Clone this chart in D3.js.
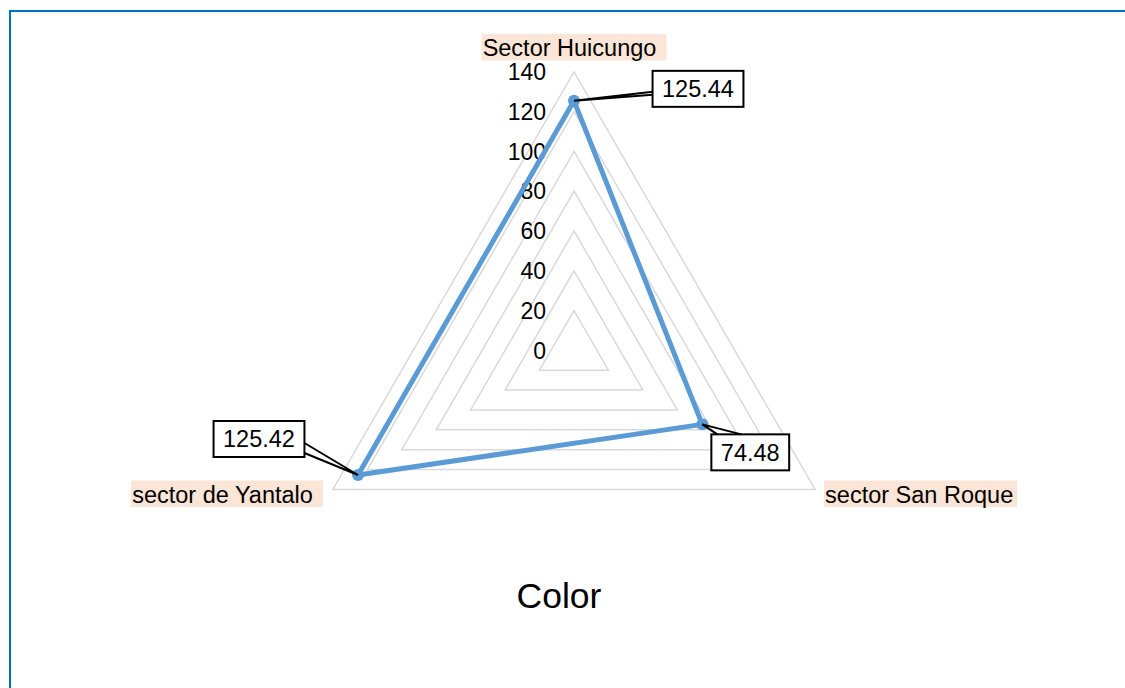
<!DOCTYPE html>
<html>
<head>
<meta charset="utf-8">
<script src="https://cdn.jsdelivr.net/npm/d3@7"></script>
<style>
  html, body { margin: 0; padding: 0; background: #fff; }
  svg { display: block; }
  text { font-family: "Liberation Sans", Arial, sans-serif; fill: #000; }
</style>
</head>
<body>
<svg id="chart" width="1125" height="688"></svg>
<script>
const categories = ["Sector Huicungo", "sector San Roque", "sector de Yantalo"];
const values = [125.44, 74.48, 125.42];
const tickValues = [0, 20, 40, 60, 80, 100, 120, 140];
const valueLabels = ["125.44", "74.48", "125.42"];
const chartTitle = "Color";

const W = 1125, H = 688;
const cx = 574, cy = 350.3, R = 278.4;
const svg = d3.select("#chart");

// frame
svg.append("rect").attr("x", 10).attr("y", 11).attr("width", 1300).attr("height", 900)
  .attr("fill", "none").attr("stroke", "#0070C0").attr("stroke-width", 2);

const r = d3.scaleLinear().domain([0, 140]).range([0, R]);
const angle = d3.scalePoint().domain(categories).range([0, 2 * Math.PI * (categories.length - 1) / categories.length]);
const pt = (cat, v) => {
  const a = angle(cat) - Math.PI / 2;
  return [cx + r(v) * Math.cos(a), cy + r(v) * Math.sin(a)];
};

const g = svg.append("g");

// grid rings
const ring = d3.lineRadial().curve(d3.curveLinearClosed);
tickValues.filter(v => v > 0).forEach(v => {
  g.append("path")
    .attr("transform", `translate(${cx},${cy})`)
    .attr("d", ring(categories.map(c => [angle(c), r(v)])))
    .attr("fill", "none").attr("stroke", "#D9D9D9").attr("stroke-width", 1.5);
});

// tick labels
g.selectAll(".tick").data(tickValues).join("text")
  .attr("x", cx - 28).attr("y", v => cy - r(v))
  .attr("dy", 8.2)
  .attr("text-anchor", "end").attr("font-size", 23)
  .text(v => v);

// series line
const series = d3.lineRadial().curve(d3.curveLinearClosed);
g.append("path")
  .attr("transform", `translate(${cx},${cy})`)
  .attr("d", series(categories.map((c, i) => [angle(c), r(values[i])])))
  .attr("fill", "none").attr("stroke", "#5B9BD5").attr("stroke-width", 5)
  .attr("stroke-linejoin", "round");

categories.forEach((c, i) => {
  const [x, y] = pt(c, values[i]);
  g.append("circle").attr("cx", x).attr("cy", y).attr("r", 6).attr("fill", "#5B9BD5");
});

// category labels with peach background
const fs = 23.5;
const padRight = [11, 5, 11];
const labelPlace = [
  (vx, vy, w) => [vx - w / 2, vy - 12 - 26],
  (vx, vy, w) => [vx + 9, vy - 9],
  (vx, vy, w) => [vx - 10 - w, vy - 9]
];
categories.forEach((c, i) => {
  const [vx, vy] = pt(c, 140);
  const t = g.append("text").attr("font-size", fs).text(c);
  const tw = t.node().getComputedTextLength();
  const w = tw + padRight[i];
  const [bx, by] = labelPlace[i](vx, vy, w);
  g.insert("rect", "text").attr("x", bx).attr("y", by).attr("width", w).attr("height", 26.5)
    .attr("fill", "#FBE5D6");
  t.attr("x", bx + 1).attr("y", by + 22);
});

// data labels with leader lines
const boxOff = [[124, -12], [48, 28], [-99, -36]];
categories.forEach((c, i) => {
  const [px, py] = pt(c, values[i]);
  const bxC = px + boxOff[i][0], byC = py + boxOff[i][1];
  const t = g.append("text").attr("font-size", fs).attr("text-anchor", "middle")
    .attr("x", bxC).attr("y", byC + 8.4).text(valueLabels[i]);
  const tw = t.node().getComputedTextLength();
  const bw = tw + 19, bh = 36;
  const x0 = bxC - bw / 2, y0 = byC - bh / 2;
  g.insert("rect", "text").attr("x", x0).attr("y", y0).attr("width", bw).attr("height", bh)
    .attr("fill", "#fff").attr("stroke", "#000").attr("stroke-width", 2);
  let d;
  if (i === 0) d = `M${x0},${byC + 3}L${px},${py}L${x0},${byC + 6}`;
  else if (i === 1) d = `M${x0 + 30},${y0}L${px},${py}L${x0 + 6},${y0}`;
  else d = `M${x0 + bw},${y0 + 22}L${px},${py}L${x0 + bw},${y0 + 32}`;
  g.append("path").attr("d", d).attr("fill", "none").attr("stroke", "#000").attr("stroke-width", 2)
    .attr("stroke-linejoin", "miter");
});

// title
svg.append("text").attr("x", 559).attr("y", 607.5).attr("text-anchor", "middle")
  .attr("font-size", 35.5).text(chartTitle);
</script>
</body>
</html>
